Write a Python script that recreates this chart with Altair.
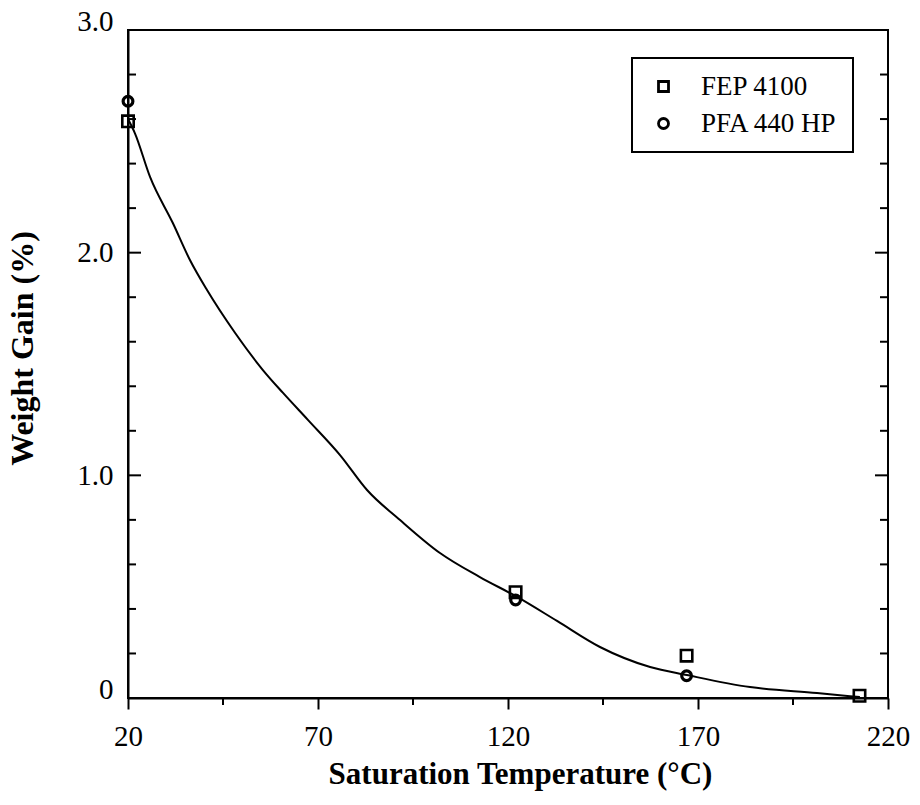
import altair as alt
import pandas as pd

# ---- data ----
fep_temp = [20, 122, 167, 212.5]
fep_gain = [2.59, 0.475, 0.19, 0.01]
pfa_temp = [20, 122, 167]
pfa_gain = [2.68, 0.44, 0.10]

fit_temp = [20, 21.8, 25.8, 31.8, 36.3, 40.8, 48.2, 55.5, 60.8, 67.4, 75.8, 82.9,
            91.6, 102.1, 112.6, 122.4, 132.9, 144.2, 157.4, 167.1, 183.7, 201.3, 212.6]
fit_gain = [2.60, 2.537, 2.34, 2.133, 1.967, 1.832, 1.639, 1.473, 1.370, 1.248, 1.091, 0.934,
            0.799, 0.651, 0.543, 0.454, 0.346, 0.229, 0.139, 0.103, 0.049, 0.022, 0.004]

series_names = ["FEP 4100", "PFA 440 HP"]
x_major = [20, 70, 120, 170, 220]
x_minor = [45, 95, 145, 195]
y_major = [0, 1, 2, 3]
y_minor = [0.2, 0.4, 0.6, 0.8, 1.2, 1.4, 1.6, 1.8, 2.2, 2.4, 2.6, 2.8]
y_inner_major = [1, 2]

FONT = "Liberation Serif"

fep = pd.DataFrame({"temp": fep_temp, "gain": fep_gain, "series": series_names[0]})
pfa = pd.DataFrame({"temp": pfa_temp, "gain": pfa_gain, "series": series_names[1]})
fit = pd.DataFrame({"temp": fit_temp, "gain": fit_gain})
xmin_df = pd.DataFrame({"temp": x_minor})
ymin_df = pd.DataFrame({"gain": y_minor})
ymaj_df = pd.DataFrame({"gain": y_inner_major})

xscale = alt.Scale(domain=[20, 220], nice=False, zero=False)
yscale = alt.Scale(domain=[0, 3], nice=False)

xaxis = alt.Axis(
    values=x_major, title="Saturation Temperature (°C)", tickSize=11, tickWidth=2,
    tickColor="black", labelPadding=36, labelBaseline="alphabetic",
    labelFontSize=29, labelFont=FONT, labelColor="black", labelFlush=False,
    titleFont=FONT, titleFontSize=31, titleFontWeight="bold", titleColor="black",
    titleX=392, titleY=85, titleBaseline="alphabetic", grid=False,
    domainColor="black", domainWidth=2,
)
yaxis = alt.Axis(
    values=y_major, title="Weight Gain (%)", ticks=False, tickSize=0, labelPadding=15,
    labelExpr="datum.value == 0 ? '0' : format(datum.value, '.1f')",
    labelBaseline={"condition": {"test": "datum.value == 0 || datum.value == 3",
                                 "value": "alphabetic"}, "value": "middle"},
    labelFontSize=29, labelFont=FONT, labelColor="black", labelFlush=False,
    titleFont=FONT, titleFontSize=32, titleFontWeight="bold", titleColor="black",
    titleX=-96, titleY=318, titleBaseline="alphabetic", grid=False,
    domainColor="black", domainWidth=2,
)

shape_enc = alt.Shape(
    "series:N",
    scale=alt.Scale(domain=series_names, range=["square", "circle"]),
    legend=alt.Legend(
        title=None, orient="none", legendX=504, legendY=28,
        labelFont=FONT, labelFontSize=27, labelColor="black",
        symbolSize=100, symbolStrokeWidth=2.8, symbolStrokeColor="black",
        symbolFillColor="white", symbolType="square", symbolOffset=3, labelOffset=24,
        padding=15, rowPadding=9, strokeColor="black",
    ),
)

line = alt.Chart(fit).mark_line(color="black", strokeWidth=2, interpolate="monotone").encode(
    x=alt.X("temp:Q", scale=xscale, axis=xaxis),
    y=alt.Y("gain:Q", scale=yscale, axis=yaxis),
)

fep_pts = alt.Chart(fep).mark_point(
    filled=False, color="black", strokeWidth=2.6, opacity=1, size=130
).encode(x="temp:Q", y="gain:Q", shape=shape_enc)

pfa_pts = alt.Chart(pfa).mark_point(
    filled=False, color="black", strokeWidth=3.2, opacity=1, size=95
).encode(x="temp:Q", y="gain:Q", shape=shape_enc)

minor_x = alt.Chart(xmin_df).mark_rule(color="black", strokeWidth=2).encode(
    x="temp:Q", y=alt.value(668), y2=alt.value(675)
)
left_minor = alt.Chart(ymin_df).mark_rule(color="black", strokeWidth=2).encode(
    y="gain:Q", x=alt.value(0), x2=alt.value(8)
)
right_minor = alt.Chart(ymin_df).mark_rule(color="black", strokeWidth=2).encode(
    y="gain:Q", x=alt.value(760), x2=alt.value(752)
)
left_major = alt.Chart(ymaj_df).mark_rule(color="black", strokeWidth=2).encode(
    y="gain:Q", x=alt.value(0), x2=alt.value(13)
)
right_major = alt.Chart(ymaj_df).mark_rule(color="black", strokeWidth=2).encode(
    y="gain:Q", x=alt.value(760), x2=alt.value(747)
)

chart = alt.layer(
    line, minor_x, left_minor, right_minor, left_major, right_major, fep_pts, pfa_pts
).properties(
    width=760, height=668,
    autosize=alt.AutoSizeParams(type="none"),
    padding={"left": 128, "top": 30, "right": 32, "bottom": 107},
    background="white",
).configure_view(
    stroke="black", strokeWidth=2
).configure_legend(
    strokeWidth=2
)

chart.save("out.html", embed_options={"renderer": "svg", "actions": False})
